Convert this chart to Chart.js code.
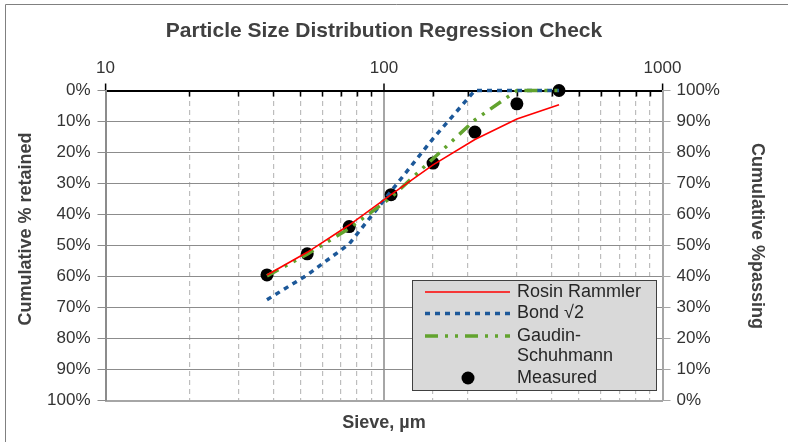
<!DOCTYPE html>
<html>
<head>
<meta charset="utf-8">
<script src="https://cdn.jsdelivr.net/npm/chart.js@4/dist/chart.umd.min.js"></script>
<style>
html,body{margin:0;padding:0;background:#fff;}
canvas{display:block;}
</style>
</head>
<body>
<canvas id="c" width="788" height="442"></canvas>
<script>
// ---- data ----
const sieveSizes = [38, 53, 75, 106, 150, 212, 300, 425];
const rosinRammler = [59.5, 52.2, 43.4, 33.6, 24.0, 15.8, 9.2, 4.6];
const bondSqrt2 = [67.5, 59.5, 49.5, 32.5, 15.5, 0, 0, 0];
const gaudinSchuhmann = [59.8, 52.8, 44.5, 34.5, 22.0, 9.5, 0, 0];
const measured = [59.5, 52.7, 43.9, 33.6, 23.4, 13.4, 4.3, 0];
const xTickLabels = [10, 100, 1000];
const seriesNames = ['Rosin Rammler', 'Bond \u221A2', 'Gaudin-Schuhmann', 'Measured'];
const chartTitle = 'Particle Size Distribution Regression Check';
const leftTitle = 'Cumulative % retained';
const rightTitle = 'Cumulative %passing';
const bottomTitle = 'Sieve, \u00B5m';

const FONT = "'Liberation Sans', Arial, sans-serif";
const pts = arr => sieveSizes.map((s, i) => ({x: s, y: arr[i]}));
const isMajor = v => xTickLabels.includes(v);

const frameAndExtras = {
  id: 'extras',
  beforeDraw(chart) {
    const ctx = chart.ctx;
    ctx.save();
    ctx.strokeStyle = '#808080';
    ctx.lineWidth = 1;
    ctx.beginPath();
    ctx.moveTo(5.5, 442); ctx.lineTo(5.5, 4.5); ctx.lineTo(788, 4.5);
    ctx.stroke();
    ctx.restore();
  },
  beforeDatasetsDraw(chart) {
    const ctx = chart.ctx, xs = chart.scales.x, top = chart.chartArea.top;
    ctx.save();
    ctx.strokeStyle = '#000';
    ctx.lineWidth = 1.5;
    xs.ticks.forEach(t => {
      if (isMajor(t.value)) return;
      const px = Math.round(xs.getPixelForValue(t.value)) + 0.5;
      ctx.beginPath(); ctx.moveTo(px, top); ctx.lineTo(px, top + 6); ctx.stroke();
    });
    ctx.restore();
  },
  afterDraw(chart) {
    const ctx = chart.ctx;
    ctx.save();
    // vertical axis titles
    ctx.fillStyle = '#404040';
    ctx.font = 'bold 18px ' + FONT;
    ctx.textAlign = 'center'; ctx.textBaseline = 'middle';
    ctx.save(); ctx.translate(26, 229); ctx.rotate(-Math.PI / 2); ctx.fillText(leftTitle, 0, 0); ctx.restore();
    ctx.save(); ctx.translate(757, 236); ctx.rotate(Math.PI / 2); ctx.fillText(rightTitle, 0, 0); ctx.restore();

    // legend
    const lx = 412.5, ly = 280.5, lw = 244, lh = 110;
    ctx.fillStyle = '#d9d9d9';
    ctx.fillRect(lx, ly, lw, lh);
    ctx.strokeStyle = '#404040'; ctx.lineWidth = 1;
    ctx.strokeRect(lx, ly, lw, lh);
    const ds = chart.data.datasets;
    const rows = [
      {d: ds[0], y: 292, text: [ds[0].label]},
      {d: ds[1], y: 313.5, text: [ds[1].label]},
      {d: ds[2], y: 336, text: ['Gaudin-', 'Schuhmann']},
      {d: ds[3], y: 378, text: [ds[3].label]}
    ];
    ctx.font = '18px ' + FONT;
    ctx.textAlign = 'left'; ctx.textBaseline = 'middle';
    rows.forEach(r => {
      if (r.d.showLine === false) {
        ctx.fillStyle = r.d.backgroundColor;
        ctx.beginPath(); ctx.arc(468, r.y, r.d.pointRadius, 0, Math.PI * 2); ctx.fill();
      } else {
        ctx.save();
        ctx.strokeStyle = r.d.borderColor;
        ctx.lineWidth = r.d.borderWidth;
        ctx.setLineDash(r.d.borderDash || []);
        ctx.lineCap = 'butt';
        ctx.beginPath(); ctx.moveTo(425, r.y); ctx.lineTo(510, r.y); ctx.stroke();
        ctx.restore();
      }
      ctx.fillStyle = '#262626';
      r.text.forEach((t, k) => ctx.fillText(t, 517, r.y + k * 20.5));
    });
    ctx.restore();
  }
};

new Chart(document.getElementById('c'), {
  type: 'line',
  data: {
    datasets: [
      {label: seriesNames[0], data: pts(rosinRammler), borderColor: '#ff0000', borderWidth: 1.6,
       pointRadius: 0, tension: 0, fill: false, clip: false, order: 1},
      {label: seriesNames[1], data: pts(bondSqrt2), borderColor: '#1c5899', borderWidth: 3.5,
       borderDash: [5, 5], borderCapStyle: 'butt', pointRadius: 0, tension: 0, fill: false, clip: false, order: 3},
      {label: seriesNames[2], data: pts(gaudinSchuhmann), borderColor: '#62a32e', borderWidth: 3.5,
       borderDash: [13, 7, 3, 7, 3, 7], borderCapStyle: 'butt', pointRadius: 0, tension: 0, fill: false, clip: false, order: 2},
      {label: seriesNames[3], data: pts(measured), showLine: false, pointRadius: 6.5, pointHoverRadius: 6.5,
       backgroundColor: '#000', borderColor: '#000', pointBorderWidth: 0, clip: false, order: 4}
    ]
  },
  options: {
    responsive: false,
    animation: false,
    events: [],
    layout: {padding: 0},
    plugins: {
      legend: {display: false},
      tooltip: {enabled: false},
      title: {display: true, text: chartTitle, color: '#404040', fullSize: false,
              font: {family: FONT, size: 21, weight: 'bold', lineHeight: 1.2},
              padding: {top: 19, bottom: 0}}
    },
    scales: {
      x: {
        type: 'logarithmic', position: 'top', min: 10, max: 1000,
        afterFit: s => { s.height = 46.3; },
        ticks: {autoSkip: false, maxRotation: 0, color: '#333', padding: 5,
                font: {family: FONT, size: 17},
                callback: v => isMajor(v) ? String(v) : ''},
        grid: {
          color: c => (c.tick && c.tick.value === 100) ? '#a6a6a6' : '#bdbdbd',
          lineWidth: c => (c.tick && c.tick.value === 100) ? 2 : 1.2,
          tickLength: 7,
          tickColor: c => (c.tick && isMajor(c.tick.value)) ? '#000' : 'rgba(0,0,0,0)',
          tickWidth: 1.5
        },
        border: {display: true, color: '#000', width: 2,
                 dash: c => (c.tick && !isMajor(c.tick.value)) ? [5, 4] : []}
      },
      xb: {
        type: 'logarithmic', position: 'bottom', min: 10, max: 1000,
        afterFit: s => { s.height = 41.5; },
        ticks: {display: false},
        grid: {drawOnChartArea: false, drawTicks: false},
        border: {display: true, color: '#a6a6a6', width: 2},
        title: {display: true, text: bottomTitle, color: '#404040',
                font: {family: FONT, size: 18, weight: 'bold', lineHeight: 1.2},
                padding: {top: 0, bottom: 8}}
      },
      y: {
        position: 'left', min: 0, max: 100, reverse: true,
        afterFit: s => { s.width = 105.5; },
        ticks: {stepSize: 10, color: '#333', padding: 7, font: {family: FONT, size: 17},
                callback: v => v + '%'},
        grid: {color: '#8c8c8c', lineWidth: 1, tickLength: 8, tickColor: '#8c8c8c'},
        border: {display: true, color: '#8c8c8c', width: 2}
      },
      y2: {
        position: 'right', min: 0, max: 100,
        afterFit: s => { s.width = 125.5; },
        ticks: {stepSize: 10, color: '#333', padding: 6, font: {family: FONT, size: 17},
                callback: v => v + '%'},
        grid: {drawOnChartArea: false, tickLength: 8, tickColor: '#a6a6a6'},
        border: {display: true, color: '#a6a6a6', width: 2}
      }
    }
  },
  plugins: [frameAndExtras]
});
</script>
</body>
</html>
